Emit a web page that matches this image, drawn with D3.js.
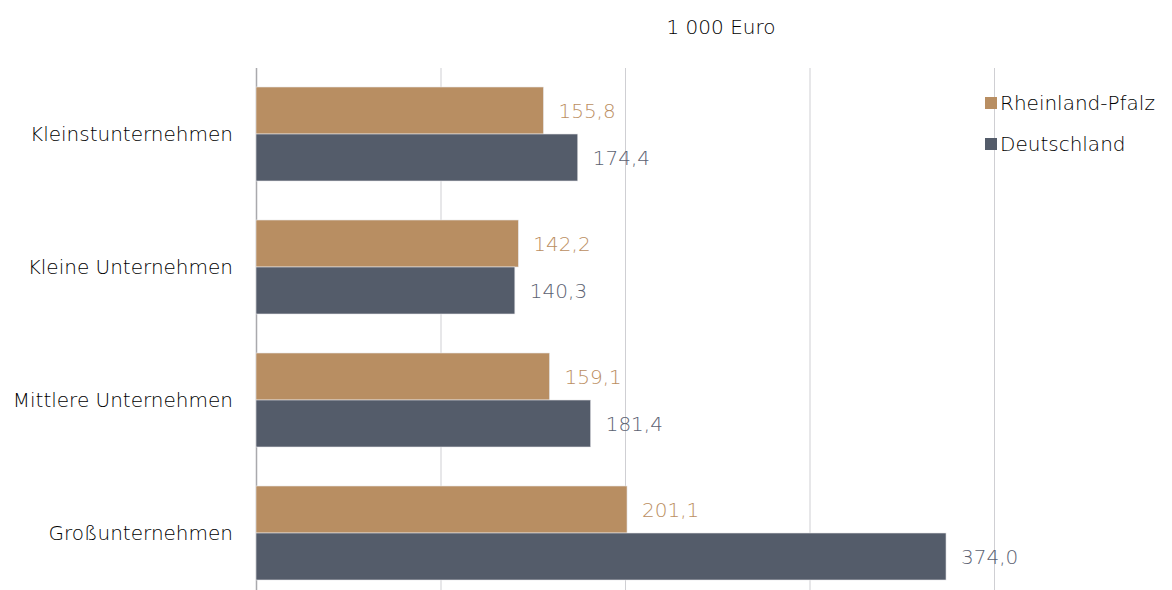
<!DOCTYPE html>
<html>
<head>
<meta charset="utf-8">
<script src="https://cdn.jsdelivr.net/npm/d3@7"></script>
<style>
  body { margin: 0; background: #fff; }
  text { font-family: "DejaVu Sans", sans-serif; font-weight: 200; }
</style>
</head>
<body>
<div id="chart"></div>
<script>
// data
var categories = ["Kleinstunternehmen", "Kleine Unternehmen", "Mittlere Unternehmen", "Großunternehmen"]
var seriesNames = ["Rheinland-Pfalz", "Deutschland"]
var rheinlandPfalz = [155.8, 142.2, 159.1, 201.1]
var deutschland = [174.4, 140.3, 181.4, 374.0]
var xTicks = [0, 100, 200, 300, 400]
var unitLabel = "1 000 Euro"

var colors = ["#b88e62", "#545c6a"]
var labelColors = ["#bb8e5f", "#5c6272"]

var width = 1172, height = 590
var margins = { top: 68, left: 256 }

var svg = d3.select("#chart")
    .append("svg")
    .attr("width", width)
    .attr("height", height)

var xScale = d3.scaleLinear()
    .domain([0, 400])
    .range([margins.left, 994])

var yScale = d3.scaleBand()
    .domain(categories)
    .range([87, 87 + 133 * 3 + 94])
    .paddingInner(39 / 133)
    .paddingOuter(0)

var ySub = d3.scaleBand()
    .domain(seriesNames)
    .range([0, yScale.bandwidth()])

var fmt = v => d3.format(".1f")(v).replace(".", ",")

// gridlines behind the bars
svg.append("g")
    .selectAll("line")
    .data(xTicks)
    .enter()
    .append("line")
    .attr("x1", d => xScale(d) + 0.5)
    .attr("x2", d => xScale(d) + 0.5)
    .attr("y1", margins.top)
    .attr("y2", height)
    .attr("stroke", d => d === 0 ? "#a9a9ad" : "#cfcfd3")
    .attr("stroke-width", d => d === 0 ? 1.5 : 1)

var rows = categories.map((c, i) => ({
    cat: c,
    values: [rheinlandPfalz[i], deutschland[i]]
}))

var groups = svg.selectAll(".group")
    .data(rows)
    .enter()
    .append("g")
    .attr("class", "group")
    .attr("transform", d => "translate(0," + yScale(d.cat) + ")")

groups.selectAll("rect")
    .data(d => d.values.map((v, j) => ({ name: seriesNames[j], v: v, j: j })))
    .enter()
    .append("rect")
    .attr("x", xScale(0))
    .attr("y", d => ySub(d.name))
    .attr("width", d => xScale(d.v) - xScale(0))
    .attr("height", ySub.bandwidth())
    .attr("fill", d => colors[d.j])
    .attr("stroke", "#e6e6e9")
    .attr("stroke-width", 0.6)

groups.selectAll(".val")
    .data(d => d.values.map((v, j) => ({ name: seriesNames[j], v: v, j: j })))
    .enter()
    .append("text")
    .attr("class", "val")
    .attr("x", d => xScale(d.v) + 15)
    .attr("y", d => ySub(d.name) + ySub.bandwidth() / 2)
    .attr("dy", "0.35em")
    .attr("fill", d => labelColors[d.j])
    .attr("font-size", "20px")
    .text(d => fmt(d.v))

// category labels
svg.append("g")
    .selectAll("text")
    .data(categories)
    .enter()
    .append("text")
    .attr("x", 233)
    .attr("y", d => yScale(d) + ySub.bandwidth())
    .attr("dy", "0.35em")
    .attr("text-anchor", "end")
    .attr("fill", "#000")
    .attr("font-size", "20px")
    .text(d => d)

// unit title
svg.append("text")
    .attr("x", 721)
    .attr("y", 27)
    .attr("dy", "0.35em")
    .attr("text-anchor", "middle")
    .attr("fill", "#000")
    .attr("font-size", "20px")
    .text(unitLabel)

// legend
var legend = svg.append("g")
    .selectAll("g")
    .data(seriesNames)
    .enter()
    .append("g")
    .attr("transform", (d, i) => "translate(985," + (103 + i * 41) + ")")

legend.append("rect")
    .attr("y", -6)
    .attr("width", 12)
    .attr("height", 12)
    .attr("fill", (d, i) => colors[i])

legend.append("text")
    .attr("x", 15)
    .attr("dy", "0.35em")
    .attr("fill", "#000")
    .attr("font-size", "20px")
    .text(d => d)
</script>
</body>
</html>
